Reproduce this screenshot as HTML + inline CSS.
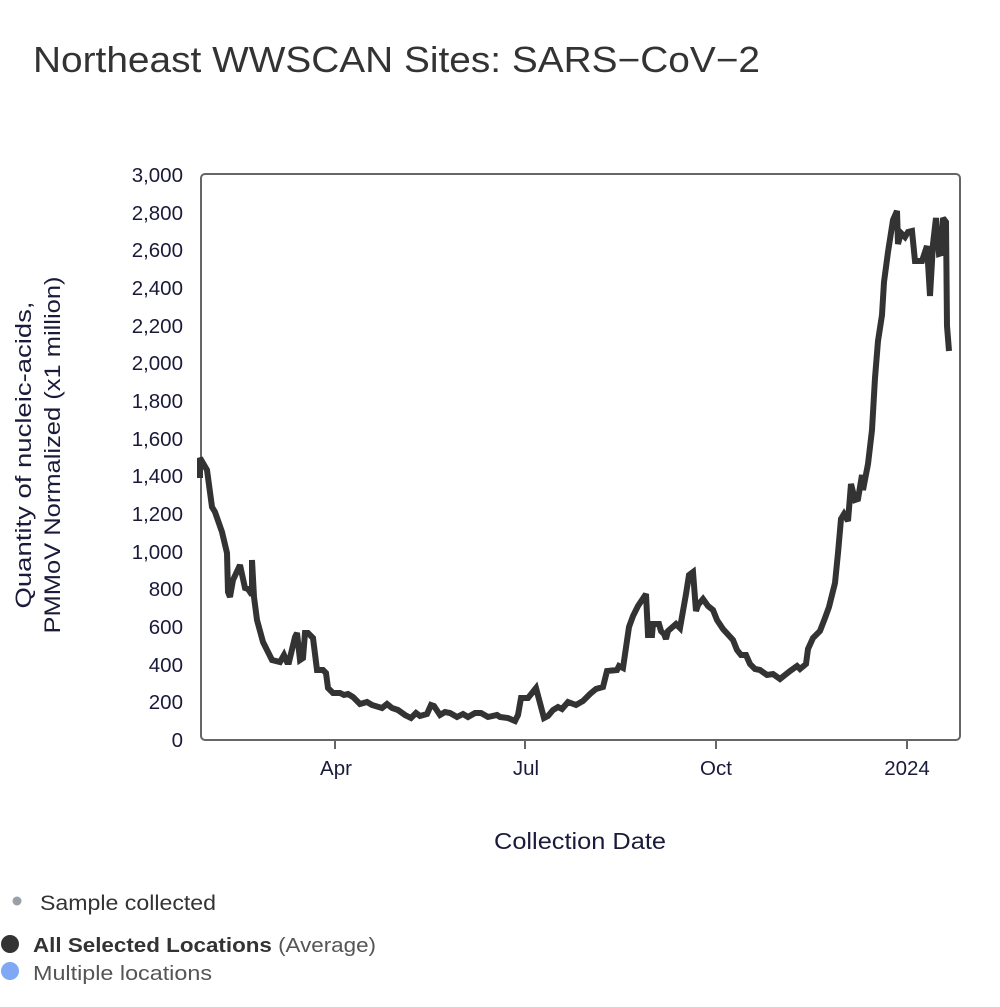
<!DOCTYPE html>
<html><head><meta charset="utf-8"><style>
body{margin:0;background:#fff;width:1000px;height:1002px;overflow:hidden;font-family:"Liberation Sans",sans-serif;}
</style></head><body>
<svg width="1000" height="1002" xmlns="http://www.w3.org/2000/svg">
<text x="33" y="72" font-size="36" fill="#333" font-family="Liberation Sans,sans-serif" textLength="727" lengthAdjust="spacingAndGlyphs">Northeast WWSCAN Sites: SARS−CoV−2</text>
<rect x="201" y="174" width="759" height="566" rx="4" fill="none" stroke="#666" stroke-width="2"/>
<g stroke="#666" stroke-width="2">
<line x1="335" y1="740" x2="335" y2="749"/><line x1="525" y1="740" x2="525" y2="749"/><line x1="716" y1="740" x2="716" y2="749"/><line x1="907" y1="740" x2="907" y2="749"/>
</g>
<g font-size="20.5" fill="#1a1a3a" text-anchor="end" font-family="Liberation Sans,sans-serif">
<text x="183" y="747">0</text><text x="183" y="709">200</text><text x="183" y="672">400</text><text x="183" y="634">600</text><text x="183" y="596">800</text><text x="183" y="559">1,000</text><text x="183" y="521">1,200</text><text x="183" y="483">1,400</text><text x="183" y="446">1,600</text><text x="183" y="408">1,800</text><text x="183" y="370">2,000</text><text x="183" y="333">2,200</text><text x="183" y="295">2,400</text><text x="183" y="257">2,600</text><text x="183" y="220">2,800</text><text x="183" y="182">3,000</text>
</g>
<g font-size="20.5" fill="#1a1a3a" text-anchor="middle" font-family="Liberation Sans,sans-serif">
<text x="336" y="775">Apr</text><text x="526" y="775">Jul</text><text x="716" y="775">Oct</text><text x="907" y="775">2024</text>
<text x="580" y="849" font-size="23" textLength="172" lengthAdjust="spacingAndGlyphs">Collection Date</text>
</g>
<g font-size="22" fill="#1a1a3a" text-anchor="middle" font-family="Liberation Sans,sans-serif" transform="translate(0,455) rotate(-90)">
<text x="0" y="31" textLength="307" lengthAdjust="spacingAndGlyphs">Quantity of nucleic-acids,</text><text x="0" y="60" textLength="357" lengthAdjust="spacingAndGlyphs">PMMoV Normalized (x1 million)</text>
</g>
<polyline fill="none" stroke="#333" stroke-width="6" stroke-linejoin="miter" stroke-miterlimit="3" points="200,478 200,458 207,470 212,507 215,512 222,532 227,553 228,592 230,597 233,580 240,565 245,588 248,589 252,595 252,560 254,597 257,620 263,642 272,660 280,662 284,655 287,662 289,662 295,637 297,633 300,660 303,658 305,633 308,633 313,638 317,670 323,670 326,673 328,688 333,693 340,693 344,695 348,694 353,697 360,704 367,702 372,705 382,708 387,704 392,708 398,710 405,715 411,718 416,713 420,716 427,714 431,705 434,706 440,715 445,712 450,713 457,717 463,714 468,717 475,713 481,713 488,717 497,715 500,717 508,718 515,721 518,715 521,698 528,698 536,688 544,718 548,716 553,710 558,707 562,709 568,702 576,705 583,701 590,694 596,689 603,687 607,671 617,670 619,666 623,668 629,627 633,616 638,606 646,594 648,635 652,635 653,624 659,624 661,631 664,634 666,639 668,631 676,624 680,628 686,594 689,575 693,572 696,611 698,605 703,599 708,606 713,610 717,620 723,629 733,640 737,650 741,655 746,655 750,664 755,669 760,670 767,675 773,674 780,679 790,671 797,666 800,669 806,664 808,649 813,638 820,631 825,618 829,607 835,583 838,553 841,519 844,514 848,521 851,484 855,500 858,499 862,475 863,490 868,464 872,430 875,378 878,341 882,315 884,282 888,252 893,220 897,211 898,244 901,233 905,237 908,232 912,231 915,261 922,261 927,246 930,296 933,244 936,218 939,254 942,253 943,218 946,222 947,326 949,351"/>
<circle cx="17" cy="901" r="4.5" fill="#9aa0a8"/>
<text x="40" y="910" font-size="21" fill="#333" font-family="Liberation Sans,sans-serif" textLength="176" lengthAdjust="spacingAndGlyphs">Sample collected</text>
<circle cx="10" cy="944" r="9" fill="#333"/>
<text x="33" y="952" font-size="20" fill="#333" font-family="Liberation Sans,sans-serif" textLength="343" lengthAdjust="spacingAndGlyphs"><tspan font-weight="bold">All Selected Locations</tspan><tspan fill="#555"> (Average)</tspan></text>
<circle cx="10" cy="971" r="9" fill="#7fa8f5"/>
<text x="33" y="980" font-size="20" fill="#555" font-family="Liberation Sans,sans-serif" textLength="179" lengthAdjust="spacingAndGlyphs">Multiple locations</text>
</svg>
</body></html>
